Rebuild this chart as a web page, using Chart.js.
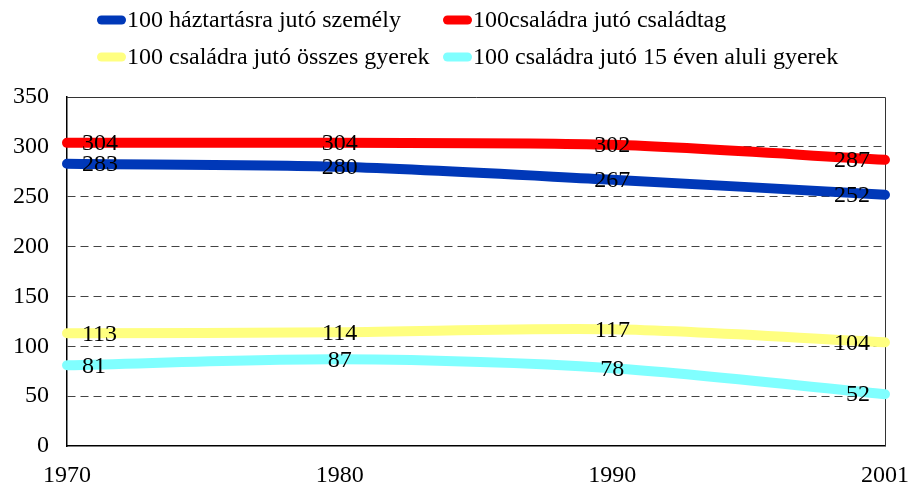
<!DOCTYPE html>
<html><head><meta charset="utf-8">
<script src="https://cdn.jsdelivr.net/npm/chart.js@4.4.0/dist/chart.umd.min.js"></script>
<style>html,body{margin:0;padding:0;background:#fff;}#wrap{width:909px;height:484px;position:relative;}</style>
</head><body><div id="wrap"><canvas id="c" width="909" height="484"></canvas></div>
<script>
// ---- data ----
const years = ['1970', '1980', '1990', '2001'];
const seriesNames = [
  '100 háztartásra jutó személy',
  '100családra jutó családtag',
  '100 családra jutó összes gyerek',
  '100 családra jutó 15 éven aluli gyerek'
];
const personsPerHousehold = [283, 280, 267, 252];
const membersPerFamily = [304, 304, 302, 287];
const childrenPerFamily = [113, 114, 117, 104];
const under15PerFamily = [81, 87, 78, 52];
const yTickValues = [0, 50, 100, 150, 200, 250, 300, 350];
const seriesColors = ['#0038B8', '#FF0000', '#FFFF80', '#80FFFF'];

const FONT = '"Liberation Serif", "Times New Roman", serif';
const values = [personsPerHousehold, membersPerFamily, childrenPerFamily, under15PerFamily];

const legendPlugin = {
  id: 'customLegend',
  afterDraw(chart) {
    const ctx = chart.ctx;
    const cols = [97, 443], rows = [20, 57];
    ctx.save();
    ctx.font = '24px ' + FONT;
    ctx.textBaseline = 'middle';
    ctx.textAlign = 'left';
    seriesNames.forEach((name, i) => {
      const x = cols[i % 2], y = rows[Math.floor(i / 2)];
      ctx.fillStyle = seriesColors[i];
      ctx.beginPath();
      ctx.roundRect(x, y - 4.5, 29, 9, 4.5);
      ctx.fill();
      ctx.fillStyle = '#000';
      ctx.fillText(name, x + 30, y + 1);
    });
    ctx.restore();
  }
};

const framePlugin = {
  id: 'frame',
  beforeDatasetsDraw(chart) {
    const {ctx, chartArea: a} = chart;
    ctx.save();
    ctx.strokeStyle = '#333';
    ctx.lineWidth = 1;
    ctx.beginPath();
    ctx.moveTo(a.left, a.top + 0.5);
    ctx.lineTo(a.right + 0.5, a.top + 0.5);
    ctx.lineTo(a.right + 0.5, a.bottom);
    ctx.stroke();
    ctx.restore();
  }
};

const labelPlugin = {
  id: 'pointLabels',
  afterDatasetsDraw(chart) {
    const {ctx, chartArea: a} = chart;
    ctx.save();
    ctx.font = '24px ' + FONT;
    ctx.fillStyle = '#000';
    ctx.textAlign = 'center';
    ctx.textBaseline = 'middle';
    chart.data.datasets.forEach((ds, di) => {
      const meta = chart.getDatasetMeta(di);
      meta.data.forEach((pt, i) => {
        const txt = String(ds.data[i]);
        const w = ctx.measureText(txt).width;
        let x = pt.x;
        x = Math.max(x, a.left + 15 + w / 2);
        x = Math.min(x, a.right - 15 - w / 2);
        ctx.fillText(txt, x, pt.y + 1);
      });
    });
    ctx.restore();
  }
};

new Chart(document.getElementById('c'), {
  type: 'line',
  data: {
    labels: years,
    datasets: values.map((v, i) => ({
      label: seriesNames[i],
      data: v,
      borderColor: seriesColors[i],
      backgroundColor: seriesColors[i],
      borderWidth: 10,
      borderCapStyle: 'round',
      borderJoinStyle: 'round',
      pointRadius: 0,
      tension: 0.3,
      clip: false,
      fill: false
    }))
  },
  options: {
    responsive: false,
    animation: false,
    layout: {padding: {top: 97, right: 24, bottom: 0, left: 0}},
    plugins: {legend: {display: false}, tooltip: {enabled: false}},
    scales: {
      x: {
        type: 'category',
        offset: false,
        grid: {display: false, drawTicks: false, tickLength: 0},
        border: {display: true, color: '#000', width: 1.5},
        ticks: {color: '#000', font: {family: FONT, size: 24}, padding: 15, maxRotation: 0, autoSkip: false},
        afterFit(s) { s.height = 38; s.paddingLeft = 0; s.paddingRight = 0; }
      },
      y: {
        min: 0, max: 350,
        afterBuildTicks(s) { s.ticks = yTickValues.map(v => ({value: v})); },
        grid: {
          drawTicks: false, tickLength: 0,
          color: ctx => (ctx.tick && (ctx.tick.value === 0 || ctx.tick.value === 350)) ? 'rgba(0,0,0,0)' : '#444',
          lineWidth: 1
        },
        border: {display: true, color: '#000', width: 1.5, dash: [8, 5]},
        ticks: {color: '#000', font: {family: FONT, size: 24}, padding: 18},
        afterFit(s) { s.width = 67; s.paddingTop = 0; s.paddingBottom = 0; }
      }
    }
  },
  plugins: [framePlugin, labelPlugin, legendPlugin]
});
</script></body></html>
